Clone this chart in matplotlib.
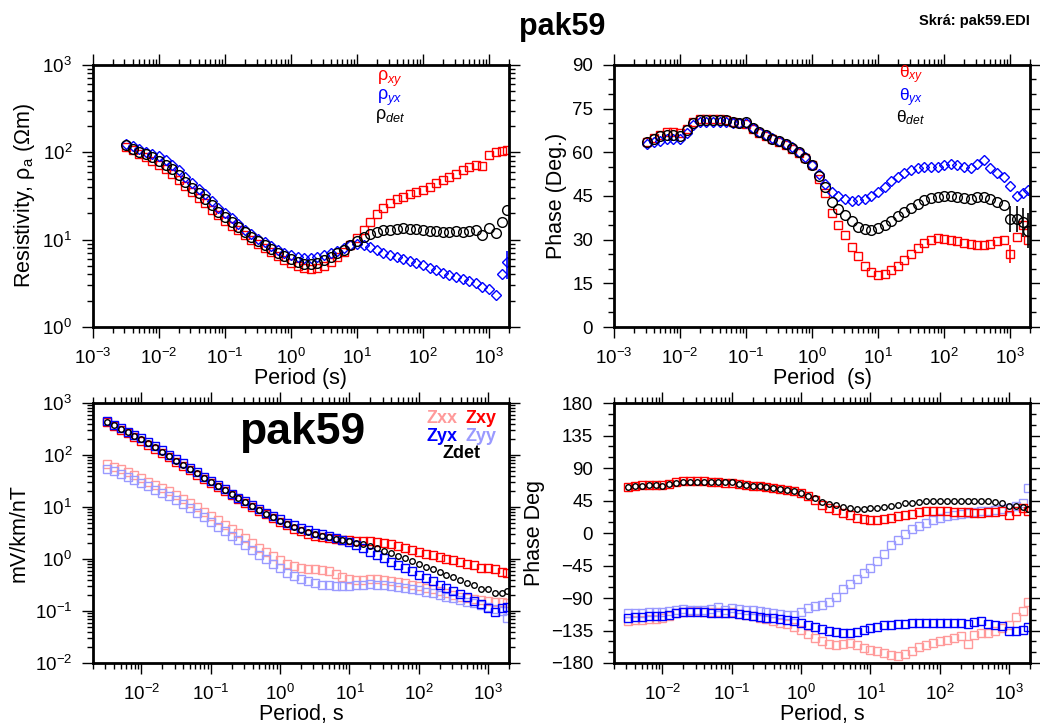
import matplotlib
matplotlib.use("Agg")
import matplotlib.pyplot as plt
from matplotlib.ticker import LogLocator, MultipleLocator, NullFormatter

plt.rcParams['font.family'] = ['Liberation Sans', 'DejaVu Sans']
plt.rcParams['mathtext.fontset'] = 'custom'
plt.rcParams['mathtext.rm'] = 'Liberation Sans'
plt.rcParams['mathtext.it'] = 'Liberation Sans:italic'
plt.rcParams['mathtext.bf'] = 'Liberation Sans:bold'

# periods (s)
periods = [0.00316, 0.00398, 0.00501, 0.00631, 0.00794,
           0.01, 0.0126, 0.0158, 0.02, 0.0251, 0.0316, 0.0398, 0.0501, 0.0631, 0.0794,
           0.1, 0.126, 0.158, 0.2, 0.251, 0.316, 0.398, 0.501, 0.631, 0.794,
           1.0, 1.26, 1.58, 2.0, 2.51, 3.16, 3.98, 5.01, 6.31, 7.94,
           10, 12.6, 15.8, 20, 25.1, 31.6, 39.8, 50.1, 63.1, 79.4,
           100, 126, 158, 200, 251, 316, 398, 501, 631, 794,
           1000, 1260, 1580, 1860]

# apparent resistivity (ohm m)
rho_xy = [115, 105, 96, 88, 80,
          72, 64, 56, 48, 41, 35, 30, 26, 22, 19,
          16.5, 14.5, 12.8, 11.3, 10, 8.9, 8, 7.2, 6.5, 5.9,
          5.4, 5.0, 4.7, 4.6, 4.7, 5.0, 5.5, 6.3, 7.3, 8.6,
          10.5, 13, 16, 19.5, 23, 26, 29, 31, 33, 35,
          37, 40, 44, 48, 52, 57, 62, 67, 72, 70,
          92, 100, 104, 105]
rho_yx = [125, 118, 110, 102, 96,
          90, 82, 72, 62, 52, 44, 38, 33, 28, 23,
          20, 17.5, 15, 13, 11.5, 10.3, 9.3, 8.4, 7.7, 7.1,
          6.7, 6.4, 6.2, 6.2, 6.3, 6.6, 7.0, 7.5, 8.0, 8.6,
          9.0, 8.8, 8.3, 7.7, 7.1, 6.7, 6.3, 6.0, 5.7, 5.4,
          5.1, 4.8, 4.5, 4.2, 3.9, 3.7, 3.5, 3.4, 3.2, 2.9,
          2.7, 2.3, 4.0, 5.5]
rho_det = [120, 110, 102, 95, 88,
           80, 72, 64, 55, 46, 39, 34, 29, 25, 21,
           18, 16, 14, 12.2, 10.8, 9.6, 8.6, 7.8, 7.1, 6.5,
           6.0, 5.6, 5.3, 5.2, 5.4, 5.8, 6.3, 7.0, 7.7, 8.6,
           9.6, 10.8, 11.6, 12.3, 12.8, 13.0, 13.3, 13.5, 13.4, 13.2,
           12.9, 12.7, 12.5, 12.3, 12.3, 12.4, 12.3, 12.5, 12.8, 11.3,
           13.5, 12, 16, 22]
rho_yx_err = [0, 0, 0, 2.0]

# phases (deg)
phi_xy = [63.5, 65, 66, 67, 67,
          66.5, 68, 70.5, 71.5, 71.5, 71.5, 71.5, 71, 70.5, 70,
          69.8, 68, 66.5, 65.5, 64.5, 63.5, 62.5, 61.3, 59.8, 58,
          55.5, 51, 46, 39, 35, 31.5, 27.5, 24.5, 21, 19,
          18, 18.2, 19.5, 21, 23, 25, 27, 29, 30, 30.5,
          30.3, 30, 29.5, 29, 28.5, 28, 28, 28.5, 29.5, 30,
          25, 31, 35, 30]
phi_yx = [63, 63.5, 64, 64.5, 64.5,
          64.5, 66.5, 69.5, 70.5, 70.5, 70.5, 70.5, 70.5, 70, 70,
          70, 68.5, 67, 66, 65, 64, 63, 61.8, 60.2, 58.5,
          55.5, 52.5, 49, 46.5, 45, 44, 43.3, 43.5, 44, 45,
          46.5, 48, 50, 51.5, 53, 54, 54.5, 55, 55, 55,
          55.5, 56, 55.5, 55, 54.5, 56, 57.5, 54.5, 53, 51.5,
          48.5, 45, 46, 47]
phi_det = [63.5, 64.5, 65.5, 66, 66,
           65.5, 67.5, 70, 71, 71, 71.2, 71, 71, 70.5, 70.2,
           70.3, 68.5, 66.8, 65.8, 64.7, 63.8, 62.8, 61.5, 60, 58.2,
           55.5, 52, 48, 43, 40.5, 38.5, 36.5, 34.5, 33.5, 33.3,
           34, 35, 36.5, 38, 39.5, 41, 42.3, 43.5, 44.3, 44.8,
           45, 45, 44.5, 44.2, 44, 44.5, 44.5, 43.8, 43, 42,
           37, 37, 36, 33]
phi_xy_err = [3, 0, 0, 0]
phi_det_err = [4.5, 4.5, 5, 6]

# impedance magnitudes (mV/km/nT)
z_xx = [68, 60, 53, 47, 41,
        36, 31, 27, 23, 20, 17, 14.5, 12, 10, 8.2,
        6.8, 5.6, 4.6, 3.8, 3.1, 2.5, 2.0, 1.65, 1.35, 1.12,
        0.95, 0.82, 0.74, 0.68, 0.65, 0.64, 0.62, 0.58, 0.52, 0.46,
        0.41, 0.39, 0.40, 0.41, 0.41, 0.40, 0.38, 0.36, 0.34, 0.32,
        0.30, 0.28, 0.26, 0.24, 0.22, 0.205, 0.19, 0.18, 0.17, 0.16,
        0.155, 0.15, 0.15, 0.14]
z_xy = [427, 363, 310, 264, 224,
        190, 159, 133, 110, 90, 74, 61, 51, 42, 34.6,
        28.7, 24.0, 20.1, 16.8, 14.1, 11.9, 10.0, 8.5, 7.2, 6.1,
        5.2, 4.46, 3.85, 3.40, 3.06, 2.81, 2.63, 2.51, 2.40, 2.33,
        2.29, 2.27, 2.25, 2.21, 2.14, 2.03, 1.91, 1.76, 1.62, 1.48,
        1.36, 1.26, 1.18, 1.10, 1.02, 0.95, 0.88, 0.82, 0.76, 0.66,
        0.68, 0.63, 0.57, 0.53]
z_yx = [445, 385, 331, 284, 246,
        212, 180, 151, 125, 102, 83, 69, 57, 47, 38,
        31.6, 26.4, 21.8, 18.0, 15.1, 12.8, 10.8, 9.2, 7.8, 6.7,
        5.8, 5.04, 4.42, 3.94, 3.54, 3.23, 2.97, 2.74, 2.52, 2.33,
        2.12, 1.87, 1.62, 1.39, 1.19, 1.03, 0.89, 0.77, 0.67, 0.58,
        0.50, 0.44, 0.38, 0.32, 0.28, 0.24, 0.21, 0.184, 0.159, 0.135,
        0.116, 0.096, 0.112, 0.12]
z_yy = [55, 49, 43, 38, 33,
        29, 25, 21.5, 18.5, 16, 13.5, 11.5, 9.5, 7.8, 6.3,
        5.2, 4.2, 3.4, 2.8, 2.3, 1.85, 1.5, 1.2, 0.98, 0.8,
        0.66, 0.55, 0.47, 0.41, 0.37, 0.34, 0.32, 0.31, 0.30, 0.30,
        0.30, 0.31, 0.32, 0.33, 0.32, 0.31, 0.30, 0.29, 0.28, 0.265,
        0.25, 0.235, 0.22, 0.205, 0.19, 0.175, 0.16, 0.15, 0.14, 0.13,
        0.12, 0.11, 0.10, 0.075]
z_det = [436, 372, 319, 274, 235,
         200, 169, 142, 117, 96, 78.5, 65, 53.8, 44.5, 36.4,
         30, 25.2, 21.0, 17.5, 14.7, 12.3, 10.4, 8.8, 7.5, 6.4,
         5.5, 4.72, 4.09, 3.61, 3.28, 3.03, 2.81, 2.64, 2.47, 2.33,
         2.19, 2.07, 1.91, 1.76, 1.60, 1.43, 1.29, 1.16, 1.03, 0.91,
         0.80, 0.71, 0.63, 0.555, 0.495, 0.443, 0.393, 0.353, 0.318, 0.267,
         0.26, 0.218, 0.225, 0.243]

# impedance phases (deg); Zxy and Zdet phases are phi_xy / phi_det
ph_zyx = [-117, -116.5, -116, -115.5, -115.5,
          -115.5, -113.5, -111, -110, -110, -110, -110, -110.5, -111, -111,
          -111, -112.5, -114, -115, -116, -117, -118, -119, -120, -121.5,
          -124.5, -127, -130, -133, -135.5, -137, -138, -138.4, -137, -134,
          -132, -130, -128, -127, -126, -125.5, -125, -125, -125, -125,
          -124.5, -124, -124.5, -125, -125.5, -123, -122.5, -125.5, -127, -129,
          -136, -135, -134, -130]
ph_zxx = [-122, -121, -120, -119.5, -119,
          -117.5, -115, -111, -109, -108.5, -108.5, -109, -109.5, -110, -110.5,
          -110, -112, -114, -115.5, -117.5, -119.5, -121.5, -124, -126.5, -129.5,
          -134, -140, -145, -150, -154, -155, -154, -153, -155, -159,
          -162, -164, -166, -168.5, -171, -168, -163, -158, -155, -152,
          -150, -148, -146, -143, -154, -141, -139, -138, -136, -131,
          -127, -116, -108, -96]
ph_zyy = [-111, -111, -110.5, -110, -110,
          -110, -108.5, -106.5, -105.5, -106, -107, -106, -105, -103, -106,
          -104, -105, -107, -106, -108, -110, -111, -112, -113, -113,
          -110, -104, -101, -99, -96, -88, -78, -70, -64, -56,
          -48, -39, -29, -17, -9, -2, 5, 10, 14, 18,
          21, 23, 25, 26.5, 27.5, 28.5, 30, 31, 32, 33.5,
          35, 37, 42, 62]

top_xticks = [1e-3, 1e-2, 1e-1, 1e0, 1e1, 1e2, 1e3]
bot_xticks = [1e-2, 1e-1, 1e0, 1e1, 1e2, 1e3]

RED = '#ff0000'
BLUE = '#0000ff'
PINK = '#ff9a9a'
LBLUE = '#9a9aff'


def style_axes(ax, logy, xticks):
    ax.set_xscale('log')
    for s in ax.spines.values():
        s.set_linewidth(2)
    ax.set_xticks(xticks)
    ax.xaxis.set_minor_locator(LogLocator(base=10, subs=range(2, 10), numticks=20))
    ax.xaxis.set_minor_formatter(NullFormatter())
    if logy:
        ax.set_yscale('log')
        ax.yaxis.set_major_locator(LogLocator(base=10, numticks=20))
        ax.yaxis.set_minor_locator(LogLocator(base=10, subs=range(2, 10), numticks=20))
        ax.yaxis.set_minor_formatter(NullFormatter())
    ax.tick_params(which='both', direction='out', top=True, right=True,
                   width=1, labelsize=13.5, pad=7)
    ax.tick_params(which='major', length=8)
    ax.tick_params(which='minor', length=4)


fig = plt.figure(figsize=(10.4, 7.28), dpi=100)
ax1 = fig.add_axes([0.0894, 0.5508, 0.4, 0.36])
ax2 = fig.add_axes([0.5904, 0.5508, 0.4, 0.36])
ax3 = fig.add_axes([0.0894, 0.0893, 0.4, 0.357])
ax4 = fig.add_axes([0.5904, 0.0893, 0.4, 0.357])

legend_kw = dict(fontsize=13, ha='center', va='center')
leg_y = [0.945, 0.875, 0.805]
theta_y = [0.962, 0.874, 0.80]

# --- apparent resistivity
ax1.plot(periods, rho_xy, 's', mfc='none', mec=RED, ms=5.5, mew=1)
ax1.plot(periods, rho_yx, 'D', mfc='none', mec=BLUE, ms=4.8, mew=1)
ax1.plot(periods, rho_det, 'o', mfc='none', mec='k', ms=7, mew=1)
ax1.errorbar(periods[-4:], rho_yx[-4:], yerr=rho_yx_err, fmt='none', ecolor=BLUE, elinewidth=1.2)
style_axes(ax1, True, top_xticks)
ax1.set_xlim(1e-3, 2e3)
ax1.set_ylim(1, 1e3)
ax1.set_xlabel('Period (s)', fontsize=15.5, labelpad=0)
ax1.set_ylabel('Resistivity, ρ$_\\mathrm{a}$ (Ωm)', fontsize=15.5, labelpad=4)
ax1.text(0.714, leg_y[0], 'ρ$_{xy}$', color=RED, transform=ax1.transAxes, **legend_kw)
ax1.text(0.714, leg_y[1], 'ρ$_{yx}$', color=BLUE, transform=ax1.transAxes, **legend_kw)
ax1.text(0.714, leg_y[2], 'ρ$_{det}$', color='k', transform=ax1.transAxes, **legend_kw)

# --- phase
ax2.plot(periods, phi_xy, 's', mfc='none', mec=RED, ms=5.5, mew=1)
ax2.plot(periods, phi_yx, 'D', mfc='none', mec=BLUE, ms=4.8, mew=1)
ax2.plot(periods, phi_det, 'o', mfc='none', mec='k', ms=7, mew=1)
ax2.errorbar(periods[-4:], phi_xy[-4:], yerr=phi_xy_err, fmt='none', ecolor=RED, elinewidth=1.2)
ax2.errorbar(periods[-4:], phi_det[-4:], yerr=phi_det_err, fmt='none', ecolor='k', elinewidth=1.2)
style_axes(ax2, False, top_xticks)
ax2.set_xlim(1e-3, 2e3)
ax2.set_ylim(0, 90)
ax2.yaxis.set_major_locator(MultipleLocator(15))
ax2.yaxis.set_minor_locator(MultipleLocator(5))
ax2.set_xlabel('Period  (s)', fontsize=15.5, labelpad=0)
ax2.set_ylabel('Phase (Deg.)', fontsize=15.5, labelpad=4)
ax2.text(0.714, theta_y[0], 'θ$_{xy}$', color=RED, transform=ax2.transAxes, fontsize=12.5, ha='center', va='center')
ax2.text(0.714, theta_y[1], 'θ$_{yx}$', color=BLUE, transform=ax2.transAxes, fontsize=12.5, ha='center', va='center')
ax2.text(0.714, theta_y[2], 'θ$_{det}$', color='k', transform=ax2.transAxes, fontsize=12.5, ha='center', va='center')

# --- impedance magnitude
ax3.plot(periods, z_xx, 's', mfc='none', mec=PINK, ms=5.5, mew=1)
ax3.plot(periods, z_yy, 's', mfc='none', mec=LBLUE, ms=5.5, mew=1)
ax3.plot(periods, z_xy, 's', mfc='none', mec=RED, ms=5.5, mew=1)
ax3.plot(periods, z_yx, 's', mfc='none', mec=BLUE, ms=5.5, mew=1)
ax3.plot(periods, z_det, 'o', mfc='none', mec='k', ms=4, mew=1)
style_axes(ax3, True, bot_xticks)
ax3.set_xlim(2e-3, 2e3)
ax3.set_ylim(1e-2, 1e3)
ax3.set_xlabel('Period, s', fontsize=15.5, labelpad=0)
ax3.set_ylabel('mV/km/nT', fontsize=15.5, labelpad=4)
ax3.text(0.502, 0.885, 'pak59', fontsize=32, fontweight='bold', transform=ax3.transAxes, ha='center', va='center')
zkw = dict(fontsize=13, fontweight='bold', ha='center', va='center', transform=ax3.transAxes)
ax3.text(0.839, 0.94, 'Zxx', color=PINK, **zkw)
ax3.text(0.933, 0.94, 'Zxy', color=RED, **zkw)
ax3.text(0.839, 0.873, 'Zyx', color=BLUE, **zkw)
ax3.text(0.933, 0.873, 'Zyy', color=LBLUE, **zkw)
ax3.text(0.887, 0.806, 'Zdet', color='k', **zkw)

# --- impedance phase
ax4.plot(periods, ph_zxx, 's', mfc='none', mec=PINK, ms=5.5, mew=1)
ax4.plot(periods, ph_zyy, 's', mfc='none', mec=LBLUE, ms=5.5, mew=1)
ax4.plot(periods, phi_xy, 's', mfc='none', mec=RED, ms=5.5, mew=1)
ax4.plot(periods, ph_zyx, 's', mfc='none', mec=BLUE, ms=5.5, mew=1)
ax4.plot(periods, phi_det, 'o', mfc='none', mec='k', ms=4, mew=1)
style_axes(ax4, False, bot_xticks)
ax4.set_xlim(2e-3, 2e3)
ax4.set_ylim(-180, 180)
ax4.yaxis.set_major_locator(MultipleLocator(45))
ax4.yaxis.set_minor_locator(MultipleLocator(15))
ax4.set_xlabel('Period, s', fontsize=15.5, labelpad=0)
ax4.set_ylabel('Phase Deg', fontsize=15.5, labelpad=4)

fig.text(562 / 1040, 1 - 27 / 728, 'pak59', fontsize=22, fontweight='bold', ha='center', va='center')
fig.text(1030 / 1040, 1 - 21 / 728, 'Skrá: pak59.EDI', fontsize=10.5, fontweight='bold', ha='right', va='center')

fig.savefig('out.png', dpi=100)
